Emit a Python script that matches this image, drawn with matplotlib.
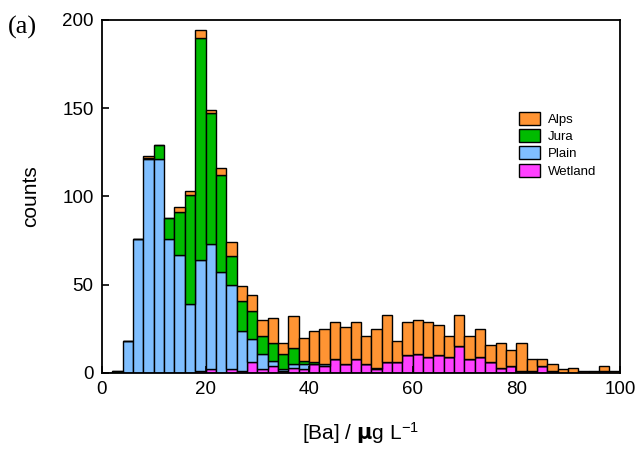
import numpy as np
import matplotlib
matplotlib.use('Agg')
import matplotlib.pyplot as plt

plt.rcParams['font.family'] = ['Liberation Sans', 'DejaVu Sans']
plt.rcParams['mathtext.default'] = 'regular'

# bin edges: 0..100 step 2
bin_left = np.arange(0, 100, 2)

wetland = [0, 0, 0, 0, 0, 0, 0, 0, 0, 1,
           2, 0, 2, 1, 6, 2, 4, 1, 3, 2,
           5, 4, 8, 5, 8, 5, 2, 6, 6, 10,
           11, 9, 10, 9, 15, 8, 9, 6, 3, 4,
           1, 1, 4, 1, 0, 0, 0, 0, 1, 0]
plain = [0, 0, 18, 76, 121, 121, 76, 67, 39, 63,
         71, 57, 48, 23, 13, 9, 3, 1, 2, 3,
         0, 1, 0, 0, 0, 0, 1, 0, 0, 0,
         0, 0, 0, 0, 0, 0, 0, 0, 0, 0,
         0, 0, 0, 0, 0, 0, 0, 0, 0, 0]
jura = [0, 1, 0, 0, 1, 8, 12, 24, 62, 126,
        74, 55, 16, 17, 16, 10, 10, 9, 9, 2,
        1, 0, 0, 0, 0, 0, 0, 0, 0, 0,
        0, 0, 0, 0, 0, 0, 0, 0, 0, 0,
        0, 0, 0, 0, 0, 0, 0, 0, 0, 0]
alps = [0, 0, 0, 0, 1, 0, 0, 3, 2, 4,
        2, 4, 8, 8, 9, 9, 14, 6, 18, 13,
        18, 20, 21, 21, 21, 16, 22, 27, 12, 19,
        19, 20, 17, 12, 18, 13, 16, 10, 14, 9,
        16, 7, 4, 4, 2, 3, 1, 1, 3, 1]

series = [('Wetland', wetland, '#ff40ff'),
          ('Plain', plain, '#80bfff'),
          ('Jura', jura, '#00bb00'),
          ('Alps', alps, '#ff9433')]

fig = plt.figure(figsize=(6.41, 4.51), dpi=100)
ax = fig.add_axes([0.159, 0.173, 0.808, 0.783])

bottom = np.zeros(len(bin_left))
handles = {}
for name, vals, col in series:
    vals = np.array(vals, dtype=float)
    b = ax.bar(bin_left, vals, width=2, bottom=bottom, align='edge',
               color=col, edgecolor='black', linewidth=1.0, label=name)
    handles[name] = b
    bottom += vals

ax.set_xlim(0, 100)
ax.set_ylim(0, 200)
ax.set_xticks([0, 20, 40, 60, 80, 100])
ax.set_yticks([0, 50, 100, 150, 200])
ax.tick_params(direction='in', length=5, width=1.2, labelsize=13.5, pad=6)
for s in ax.spines.values():
    s.set_linewidth(1.3)

ax.set_xlabel('[Ba] / $\\mathbf{\\mu}$g L$^{-1}$', fontsize=15, labelpad=16)
ax.set_ylabel('counts', fontsize=15, labelpad=16)

order = ['Alps', 'Jura', 'Plain', 'Wetland']
ax.legend([handles[n] for n in order], order, loc='upper left',
          bbox_to_anchor=(0.795, 0.755), frameon=False, fontsize=9.5,
          handlelength=1.6, handleheight=1.15, handletextpad=0.6,
          labelspacing=0.25, borderaxespad=0)

fig.text(0.012, 0.925, '(a)', family='Liberation Serif', fontsize=19)

fig.savefig('out.png', dpi=100)
